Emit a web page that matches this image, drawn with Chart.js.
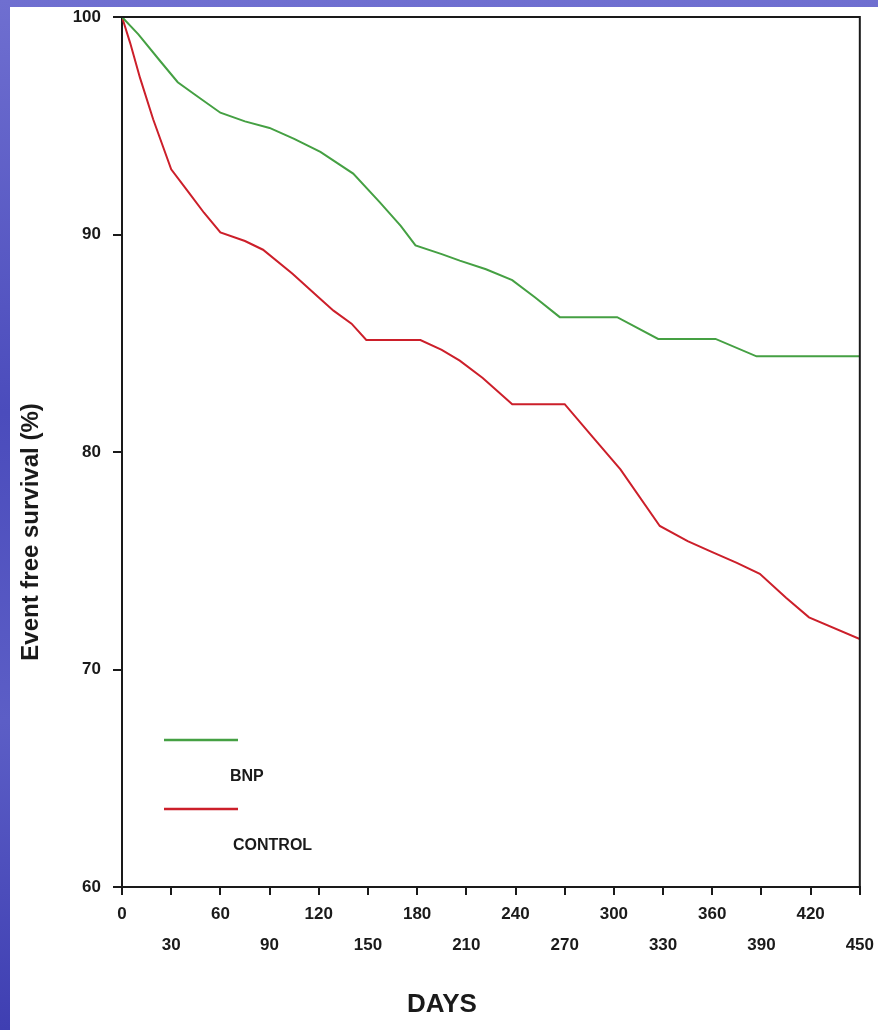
<!DOCTYPE html>
<html>
<head>
<meta charset="utf-8">
<title>Event free survival</title>
<script src="https://cdn.jsdelivr.net/npm/chart.js@4.4.1/dist/chart.umd.min.js"></script>
<style>
  html, body { margin: 0; padding: 0; }
  body {
    width: 878px; height: 1030px; position: relative; overflow: hidden;
    background: linear-gradient(180deg, #6f6fd0 0%, #4b4cbc 40%, #5c5ec6 70%, #3f3fb2 100%);
  }
  #panel { position: absolute; left: 10px; top: 7px; right: 0; bottom: 0; background: #fff; }
  #chart { position: absolute; left: 0; top: 0; }
</style>
</head>
<body>
<div id="panel"></div>
<canvas id="chart" width="878" height="1030"></canvas>
<script>
// ===== Data =====
const bnpDays = [0, 10, 23, 34, 45, 60, 75, 90, 105, 121, 141, 157, 170, 179, 195, 206, 222, 238, 252, 267, 302, 327, 362, 387, 450];
const bnpSurvival = [100, 99.2, 98.0, 97.0, 96.4, 95.6, 95.2, 94.9, 94.4, 93.8, 92.8, 91.5, 90.4, 89.5, 89.1, 88.8, 88.4, 87.9, 87.1, 86.2, 86.2, 85.2, 85.2, 84.4, 84.4];

const controlDays = [0, 5, 11, 19, 30, 41, 50, 60, 75, 86, 104, 120, 129, 140, 149, 182, 195, 206, 220, 238, 270, 287, 304, 328, 345, 360, 375, 389, 405, 419, 450];
const controlSurvival = [100, 98.8, 97.2, 95.3, 93.0, 91.9, 91.0, 90.1, 89.7, 89.3, 88.2, 87.1, 86.5, 85.9, 85.15, 85.15, 84.7, 84.2, 83.4, 82.2, 82.2, 80.7, 79.2, 76.6, 75.9, 75.4, 74.9, 74.4, 73.3, 72.4, 71.4];

const seriesLabels = ['BNP', 'CONTROL'];
const xTitle = 'DAYS';
const yTitle = 'Event free survival (%)';

// ===== Style =====
const GREEN = '#45a043';
const RED   = '#cc1f2a';
const INK   = '#1a1a1a';
const FONT  = "'Liberation Sans Narrow', 'Liberation Sans', Arial, sans-serif";

const toPoints = (xs, ys) => xs.map((x, i) => ({ x, y: ys[i] }));

// ===== Plugins =====
// Closes the frame (top + right edges)
const frame = {
  id: 'frame',
  afterDraw(chart) {
    const { ctx, chartArea: a } = chart;
    ctx.save();
    ctx.strokeStyle = INK;
    ctx.lineWidth = 2;
    ctx.beginPath();
    ctx.moveTo(a.left - 9, a.top);
    ctx.lineTo(a.right, a.top);
    ctx.lineTo(a.right, a.bottom);
    ctx.stroke();
    ctx.restore();
  },
};

// Axis titles, placed like the original slide
const titles = {
  id: 'titles',
  afterDraw(chart) {
    const { ctx } = chart;
    ctx.save();
    ctx.fillStyle = INK;
    ctx.textAlign = 'center';
    ctx.textBaseline = 'middle';

    ctx.font = "bold 26px 'Liberation Sans Narrow', 'Liberation Sans', Arial, sans-serif";
    ctx.fillText(xTitle, 442, 1005);

    ctx.font = "bold 24px 'Liberation Sans', Arial, sans-serif";
    ctx.translate(31, 532);
    ctx.rotate(-Math.PI / 2);
    ctx.fillText(yTitle, 0, 0);
    ctx.restore();
  },
};

// Legend in the lower-left of the plot
const stackedLegend = {
  id: 'stackedLegend',
  afterDraw(chart) {
    const { ctx, chartArea: a } = chart;
    ctx.save();
    ctx.font = "bold 16px 'Liberation Sans', Arial, sans-serif";
    ctx.textBaseline = 'middle';
    ctx.fillStyle = INK;
    chart.data.datasets.forEach((ds, i) => {
      const y = a.top + 723 + i * 69;
      ctx.strokeStyle = ds.borderColor;
      ctx.lineWidth = 2.5;
      ctx.beginPath();
      ctx.moveTo(a.left + 42, y);
      ctx.lineTo(a.left + 116, y);
      ctx.stroke();
      ctx.fillText(ds.label, a.left + 108 + i * 3, y + 37);
    });
    ctx.restore();
  },
};

// ===== Chart =====
new Chart(document.getElementById('chart'), {
  type: 'line',
  data: {
    datasets: [
      {
        label: seriesLabels[0],
        data: toPoints(bnpDays, bnpSurvival),
        borderColor: GREEN,
        borderWidth: 2,
        pointRadius: 0,
        tension: 0,
      },
      {
        label: seriesLabels[1],
        data: toPoints(controlDays, controlSurvival),
        borderColor: RED,
        borderWidth: 2,
        pointRadius: 0,
        tension: 0,
      },
    ],
  },
  options: {
    responsive: false,
    animation: false,
    layout: { padding: { left: 0, top: 17, right: 18, bottom: 0 } },
    plugins: {
      legend:  { display: false },
      tooltip: { enabled: false },
    },
    scales: {
      x: {
        type: 'linear',
        min: 0,
        max: 450,
        afterFit: (s) => { s.height = 143; },
        border: { display: true, color: INK, width: 2 },
        grid: { drawOnChartArea: false, drawTicks: true, tickLength: 8, color: INK, lineWidth: 2 },
        ticks: {
          stepSize: 30,
          autoSkip: false,
          maxRotation: 0,
          padding: 4,
          color: INK,
          font: { family: FONT, size: 17, weight: 'bold', lineHeight: '31px' },
          callback: (v, i) => (i % 2 === 0 ? [String(v), ''] : ['', String(v)]),
        },
      },
      y: {
        min: 60,
        max: 100,
        afterFit: (s) => { s.width = 122; s.paddingTop = 0; s.paddingBottom = 0; },
        border: { display: true, color: INK, width: 2 },
        grid: { drawOnChartArea: false, drawTicks: true, tickLength: 9, color: INK, lineWidth: 2 },
        ticks: {
          stepSize: 10,
          padding: 12,
          color: INK,
          font: { family: FONT, size: 17, weight: 'bold' },
        },
      },
    },
  },
  plugins: [frame, titles, stackedLegend],
});
</script>
</body>
</html>
